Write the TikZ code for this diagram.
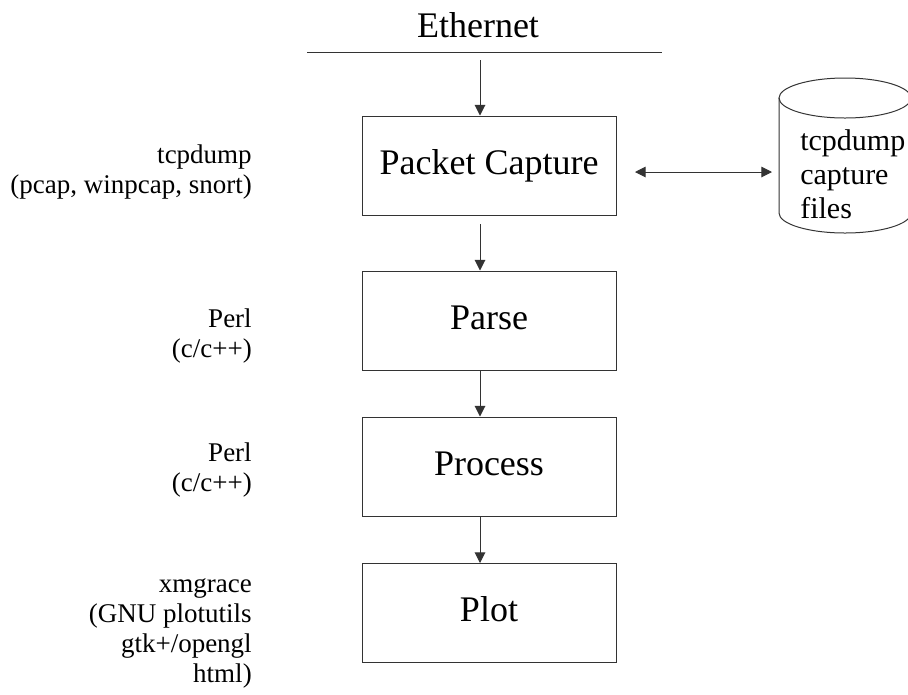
\documentclass[tikz,border=0pt]{standalone}
\usepackage{fontspec}
\setmainfont{Liberation Serif}
\usetikzlibrary{arrows.meta}
\begin{document}
\begin{tikzpicture}[x=0.75pt,y=-0.75pt,
  ln/.style={draw=black!80, line width=0.75pt},
  box/.style={ln, minimum width=190.5pt, minimum height=74.25pt, inner sep=0pt,
    font=\fontsize{27}{32}\selectfont, text height=18.75pt, text depth=6pt},
  lbl/.style={align=right, anchor=base east, inner sep=0pt, font=\fontsize{20.25}{22.5}\selectfont},
  tip/.tip={Triangle[length=8pt,width=8pt]},
  arr/.style={ln, -tip},
  darr/.style={ln, tip-tip}]
\useasboundingbox (0,0) rectangle (908,694);
% title and bus line
\node[font=\fontsize{27}{32}\selectfont, anchor=base, inner sep=0pt] (eth) at (478,37) {Ethernet};
\coordinate (ethL) at (307,52);
\coordinate (ethR) at (662,52);
\draw[ln] (ethL) -- (ethR);
% boxes
\node[box] (pc) at (489,165.5) {Packet Capture};
\node[box] (parse) at (489,320.5) {Parse};
\node[box] (proc) at (489,466.5) {Process};
\node[box] (plot) at (489,613) {Plot};
% vertical arrows
\coordinate (a1) at (480,60);
\coordinate (a2) at (480,224);
\draw[arr] (a1) -- (a1 |- pc.north);
\draw[arr] (a2) -- (a2 |- parse.north);
\draw[arr] (a2 |- parse.south) -- (a2 |- proc.north);
\draw[arr] (a2 |- proc.south) -- (a2 |- plot.north);
% cylinder
\draw[ln] (779,98) -- (779,213) arc[start angle=180, end angle=360, x radius=49.5pt, y radius=15pt] -- (911,98);
\draw[ln] (845,98) ellipse[x radius=49.5pt, y radius=15pt];
\node[anchor=base west, align=left, inner sep=0pt, font=\fontsize{22.5}{25.5}\selectfont] (cyl) at (800,218) {tcpdump\\capture\\files};
% double arrow
\coordinate (dl) at (635,172);
\coordinate (dr) at (772,172);
\draw[darr] (dl) -- (dr);
% side labels (base anchor = last line)
\node[lbl] (l1) at (252,193) {tcpdump\\(pcap, winpcap, snort)};
\node[lbl] (l2) at (252,357) {Perl\\(c/c++)};
\node[lbl] (l3) at (252,491) {Perl\\(c/c++)};
\node[lbl] (l4) at (252,682) {xmgrace\\(GNU plotutils\hspace*{3pt}\\gtk+/opengl\\html)};
\end{tikzpicture}
\end{document}
